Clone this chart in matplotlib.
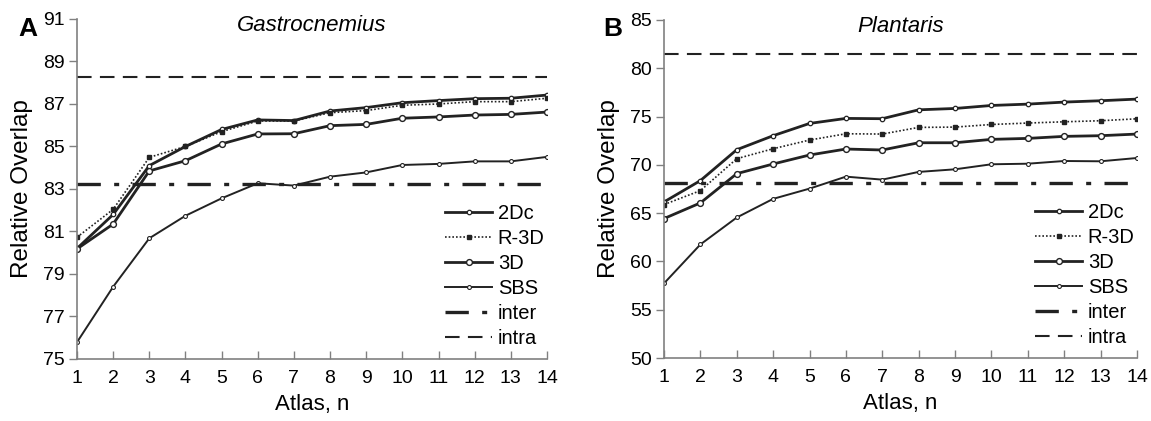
import numpy as np
import matplotlib.pyplot as plt

plt.rcParams['font.family'] = ['Liberation Sans', 'DejaVu Sans']

atlas = np.arange(1, 15)

# Gastrocnemius
gas_2dc = [80.2, 81.8, 84.1, 85.0, 85.8, 86.25, 86.22, 86.67, 86.83, 87.06, 87.16, 87.25, 87.27, 87.42]
gas_r3d = [80.73, 82.04, 84.49, 85.0, 85.7, 86.2, 86.2, 86.59, 86.69, 86.94, 87.0, 87.11, 87.11, 87.27]
gas_3d = [80.18, 81.35, 83.85, 84.33, 85.12, 85.59, 85.6, 85.98, 86.04, 86.33, 86.39, 86.48, 86.51, 86.62]
gas_sbs = [75.79, 78.4, 80.68, 81.74, 82.56, 83.27, 83.16, 83.58, 83.78, 84.13, 84.18, 84.3, 84.3, 84.51]
gas_inter = 83.22
gas_intra = 88.29

# Plantaris
pla_2dc = [66.16, 68.37, 71.57, 73.02, 74.29, 74.81, 74.78, 75.7, 75.84, 76.15, 76.29, 76.5, 76.64, 76.81]
pla_r3d = [65.89, 67.33, 70.64, 71.67, 72.57, 73.22, 73.19, 73.88, 73.91, 74.18, 74.33, 74.46, 74.57, 74.77]
pla_3d = [64.44, 66.06, 69.09, 70.09, 71.02, 71.64, 71.54, 72.29, 72.29, 72.64, 72.74, 72.95, 73.02, 73.19]
pla_sbs = [57.73, 61.76, 64.55, 66.48, 67.54, 68.78, 68.47, 69.27, 69.54, 70.06, 70.12, 70.4, 70.37, 70.71]
pla_inter = 68.16
pla_intra = 81.49

lc = '#222222'
sc = '#808080'

fig = plt.figure(figsize=(11.51, 4.21), dpi=100)
ax1 = fig.add_axes([0.0669, 0.1473, 0.4083, 0.8076])
ax2 = fig.add_axes([0.5769, 0.1496, 0.4109, 0.8029])


def draw(ax, d2, r3, d3, sbs, inter, intra, ylim, yticks, title, letter, lx):
    ax.plot(atlas, d2, color=lc, lw=2.0, marker='o', ms=3.2, mfc='white', mec=lc, mew=0.9, label='2Dc')
    ax.plot(atlas, r3, color=lc, lw=1.2, ls=(0, (1, 1.2)), marker='s', ms=3.4, mfc=lc, mec=lc, label='R-3D')
    ax.plot(atlas, d3, color=lc, lw=2.0, marker='o', ms=4.2, mfc='white', mec=lc, mew=1.0, label='3D')
    ax.plot(atlas, sbs, color=lc, lw=1.4, marker='o', ms=2.8, mfc='white', mec=lc, mew=0.8, label='SBS')
    ax.axhline(inter, color=lc, lw=2.4, ls=(0, (7, 4, 1.5, 4)), label='inter')
    ax.axhline(intra, color=lc, lw=1.5, ls=(0, (7, 4)), label='intra')
    ax.set_xlim(1, 14)
    ax.set_ylim(*ylim)
    ax.set_xticks(atlas)
    ax.set_yticks(yticks)
    for s in ['top', 'right']:
        ax.spines[s].set_visible(False)
    for s in ['left', 'bottom']:
        ax.spines[s].set_color(sc)
        ax.spines[s].set_linewidth(1.2)
    ax.tick_params(axis='y', direction='out', length=6, width=1, color=sc, labelsize=14, pad=3)
    ax.tick_params(axis='x', direction='in', length=6, width=1, color=sc, labelsize=14, pad=8)
    ax.set_xlabel('Atlas, n', fontsize=16, labelpad=5)
    ax.set_ylabel('Relative Overlap', fontsize=17.5, labelpad=7)
    ax.text(0.5, 0.982, title, transform=ax.transAxes, ha='center', va='center',
            fontsize=16, style='italic')
    fig.text(lx, 0.93, letter, ha='center', va='center', fontsize=19, fontweight='bold')
    leg = ax.legend(loc='lower right', bbox_to_anchor=(1.025, -0.01), frameon=False, fontsize=14.5,
                    handlelength=2.3, handletextpad=0.3, labelspacing=0.3, borderpad=0.2,
                    numpoints=1)
    return leg


draw(ax1, gas_2dc, gas_r3d, gas_3d, gas_sbs, gas_inter, gas_intra, (75, 91), np.arange(75, 92, 2),
     'Gastrocnemius', 'A', 0.024)
draw(ax2, pla_2dc, pla_r3d, pla_3d, pla_sbs, pla_inter, pla_intra, (50, 85), np.arange(50, 86, 5),
     'Plantaris', 'B', 0.532)

fig.savefig('out.png', dpi=100)
